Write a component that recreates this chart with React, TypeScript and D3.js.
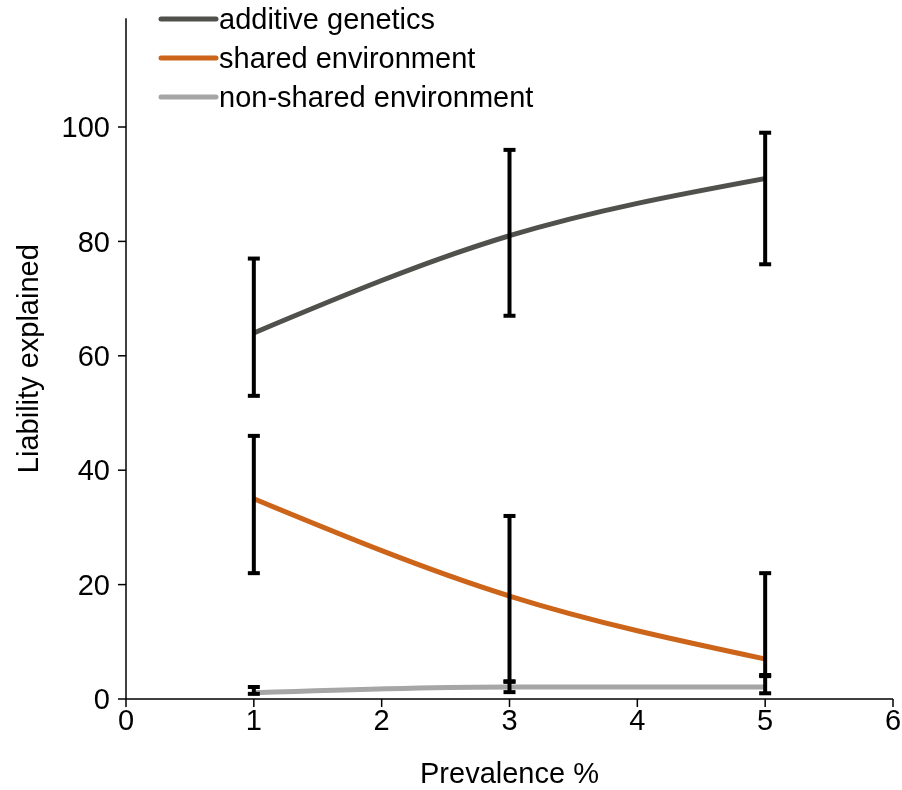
import React, { useEffect, useRef } from 'react';
import * as d3 from 'd3';

const prevalence = [1, 3, 5];

const seriesNames = ['additive genetics', 'shared environment', 'non-shared environment'];
const seriesColors = ['#50504c', '#cc6419', '#a6a6a6'];

const additive = [64, 81, 91];
const additiveLow = [53, 67, 76];
const additiveHigh = [77, 96, 99];

const shared = [35, 18, 7];
const sharedLow = [22, 3, 4];
const sharedHigh = [46, 32, 22];

const nonShared = [1.1, 2.1, 2.1];
const nonSharedLow = [0.9, 1.2, 1];
const nonSharedHigh = [2.1, 3.1, 4.2];

const xTicks = [0, 1, 2, 3, 4, 5, 6];
const yTicks = [0, 20, 40, 60, 80, 100];

const App = () => {
  const svgRef = useRef<SVGSVGElement>(null);

  useEffect(() => {
    const svg = d3.select(svgRef.current);
    svg.selectAll('*').remove();

    const font = '"Liberation Sans", Arial, sans-serif';
    const fs = 29;

    const x = d3.scaleLinear().domain([0, 6]).range([126, 893]);
    const y = d3.scaleLinear().domain([0, 100]).range([699, 127]);
    const yTop = 119;

    const series = [
      { name: seriesNames[0], color: seriesColors[0], v: additive, lo: additiveLow, hi: additiveHigh },
      { name: seriesNames[1], color: seriesColors[1], v: shared, lo: sharedLow, hi: sharedHigh },
      { name: seriesNames[2], color: seriesColors[2], v: nonShared, lo: nonSharedLow, hi: nonSharedHigh },
    ];

    // axes
    const yAxis = svg.append('g').attr('transform', `translate(${x(0)},0)`);
    yAxis.append('line')
      .attr('x1', 0).attr('x2', 0)
      .attr('y1', y(yTop)).attr('y2', y(0))
      .attr('stroke', '#000').attr('stroke-width', 1.5);
    yTicks.forEach((t) => {
      yAxis.append('line')
        .attr('x1', -8).attr('x2', 0)
        .attr('y1', y(t)).attr('y2', y(t))
        .attr('stroke', '#000').attr('stroke-width', 1.5);
      yAxis.append('text')
        .attr('x', -16).attr('y', y(t))
        .attr('dy', '0.35em')
        .attr('text-anchor', 'end')
        .attr('font-family', font).attr('font-size', fs)
        .text(t);
    });

    const xAxis = svg.append('g').attr('transform', `translate(0,${y(0)})`);
    xAxis.append('line')
      .attr('x1', x(0)).attr('x2', x(6))
      .attr('y1', 0).attr('y2', 0)
      .attr('stroke', '#000').attr('stroke-width', 1.5);
    xTicks.forEach((t) => {
      xAxis.append('line')
        .attr('x1', x(t)).attr('x2', x(t))
        .attr('y1', 0).attr('y2', 8)
        .attr('stroke', '#000').attr('stroke-width', 1.5);
      xAxis.append('text')
        .attr('x', x(t)).attr('y', 31)
        .attr('text-anchor', 'middle')
        .attr('font-family', font).attr('font-size', fs)
        .text(t);
    });

    svg.append('text')
      .attr('x', x(3)).attr('y', 783)
      .attr('text-anchor', 'middle')
      .attr('font-family', font).attr('font-size', fs)
      .text('Prevalence %');

    svg.append('text')
      .attr('transform', `translate(38,${(y(yTop) + y(0)) / 2}) rotate(-90)`)
      .attr('text-anchor', 'middle')
      .attr('font-family', font).attr('font-size', fs)
      .text('Liability explained');

    const line = d3.line<number>()
      .x((d, i) => x(prevalence[i]))
      .y((d) => y(d))
      .curve(d3.curveMonotoneX);

    series.forEach((s) => {
      svg.append('path')
        .datum(s.v)
        .attr('fill', 'none')
        .attr('stroke', s.color)
        .attr('stroke-width', 5)
        .attr('d', line);

      const eb = svg.append('g');
      prevalence.forEach((p, i) => {
        eb.append('line')
          .attr('x1', x(p)).attr('x2', x(p))
          .attr('y1', y(s.lo[i])).attr('y2', y(s.hi[i]))
          .attr('stroke', '#000').attr('stroke-width', 4);
        [s.lo[i], s.hi[i]].forEach((e) => {
          eb.append('line')
            .attr('x1', x(p) - 6).attr('x2', x(p) + 6)
            .attr('y1', y(e)).attr('y2', y(e))
            .attr('stroke', '#000').attr('stroke-width', 4);
        });
      });
    });

    // legend
    const legend = svg.append('g');
    series.forEach((s, i) => {
      const ly = 19 + i * 39;
      legend.append('line')
        .attr('x1', 161).attr('x2', 216)
        .attr('y1', ly).attr('y2', ly)
        .attr('stroke', s.color).attr('stroke-width', 5)
        .attr('stroke-linecap', 'round');
      legend.append('text')
        .attr('x', 219).attr('y', ly)
        .attr('dy', '0.35em')
        .attr('font-family', font).attr('font-size', fs)
        .text(s.name);
    });
  }, []);

  return (
    <svg
      ref={svgRef}
      width={902}
      height={790}
      style={{ position: 'fixed', left: 0, top: 0, display: 'block' }}
    />
  );
};

export default App;
